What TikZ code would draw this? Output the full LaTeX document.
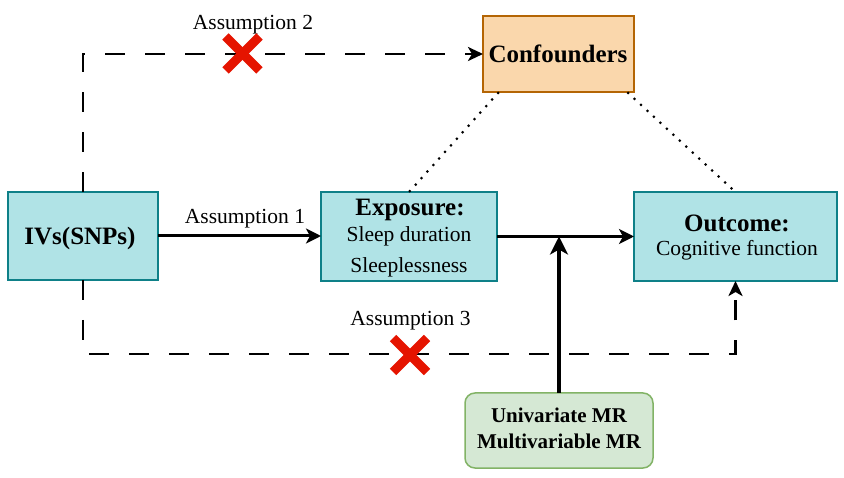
\documentclass[tikz,border=0pt]{standalone}
\usepackage{fontspec}
\setmainfont{Liberation Serif}
\usetikzlibrary{arrows.meta,calc}
\definecolor{tealfill}{HTML}{B0E3E6}
\definecolor{tealline}{HTML}{0E8088}
\definecolor{orangefill}{HTML}{FAD7AC}
\definecolor{orangeline}{HTML}{B46504}
\definecolor{greenfill}{HTML}{D5E8D4}
\definecolor{greenline}{HTML}{82B366}
\definecolor{xred}{HTML}{E51400}
\begin{document}
\begin{tikzpicture}[x=1pt,y=-1pt,
  tealbox/.style={draw=tealline,fill=tealfill,line width=1.5pt,inner sep=0pt,outer sep=0pt},
  confbox/.style={draw=orangeline,fill=orangefill,line width=1.5pt,inner sep=0pt,outer sep=0pt},
  mrbox/.style={draw=greenline,fill=greenfill,line width=1.5pt,inner sep=0pt,outer sep=0pt,rounded corners=10pt},
  txt/.style={anchor=base,inner sep=0pt,font=\fontsize{21.5}{26}\selectfont},
  btxt/.style={anchor=base,inner sep=0pt,font=\fontsize{25}{30}\selectfont\bfseries},
  mrtxt/.style={anchor=base,inner sep=0pt,font=\fontsize{21}{26}\selectfont\bfseries},
  solidarrow/.style={line width=3pt,-{Stealth[length=15pt,width=15pt,inset=4pt]}},
  bigarrow/.style={line width=3.3pt,-{Stealth[length=18pt,width=18pt,inset=5pt]}},
  dasharrow/.style={line width=2.8pt,dash pattern=on 20pt off 20pt,-{Stealth[length=15pt,width=14pt,inset=4pt]}},
  dotline/.style={line width=3pt,line cap=round,dash pattern=on 0pt off 8.8pt},
  redx/.style={draw=xred,line width=9pt}
]
\useasboundingbox (0,0) rectangle (844,478);
% boxes
\node[tealbox,minimum width=150pt,minimum height=88pt] (ivs) at (83,236) {};
\node[tealbox,minimum width=176pt,minimum height=89pt] (exp) at (409,236.5) {};
\node[tealbox,minimum width=203pt,minimum height=89pt] (out) at (735.5,236.5) {};
\node[confbox,minimum width=151pt,minimum height=76pt] (conf) at (558.5,54) {};
\node[mrbox,minimum width=188pt,minimum height=75pt] (mr) at (559,430.5) {};
% texts
\node[btxt] (tivs) at (80,245) {IVs(SNPs)};
\node[btxt] (texp) at (410,216) {Exposure:};
\node[txt] (texp1) at (409,241.7) {Sleep duration};
\node[txt] (texp2) at (409,272.7) {Sleeplessness};
\node[btxt] (tout) at (737,231.7) {Outcome:};
\node[txt] (tout1) at (737,256) {Cognitive function};
\node[btxt] (tconf) at (558,63) {Confounders};
\node[mrtxt] (tmr1) at (559,423) {Univariate MR};
\node[mrtxt] (tmr2) at (559,449) {Multivariable MR};
\node[txt] (a1) at (245,224) {Assumption 1};
\node[txt] (a2) at (253,29.3) {Assumption 2};
\node[txt] (a3) at (410.5,325.7) {Assumption 3};
% connectors
\draw[solidarrow] (ivs.east) -- (ivs.east -| exp.west);
\draw[solidarrow] (exp.east) -- (out.west);
\draw[bigarrow] (mr.north) -- (mr.north |- exp.east);
\draw[dasharrow] (ivs.north) -- (ivs.north |- conf.west) -- (conf.west);
\coordinate (bl) at (83,354);
\draw[dasharrow] (ivs.south) -- (bl) -- (bl -| out.south) -- (out.south);
\coordinate (c1) at ($(conf.south west)+(15,1)$);
\coordinate (c2) at ($(conf.south east)+(-6,1)$);
\draw[dotline] (c1) -- (exp.north);
\draw[dotline] (c2) -- (out.north);
% red crosses
\coordinate (x1) at (242.5,53.5);
\coordinate (x2) at (410,355);
\draw[redx] ($(x1)+(-17,-17)$) -- ($(x1)+(17,17)$);
\draw[redx] ($(x1)+(17,-17)$) -- ($(x1)+(-17,17)$);
\draw[redx] ($(x2)+(-17,-17)$) -- ($(x2)+(17,17)$);
\draw[redx] ($(x2)+(17,-17)$) -- ($(x2)+(-17,17)$);
\end{tikzpicture}
\end{document}
